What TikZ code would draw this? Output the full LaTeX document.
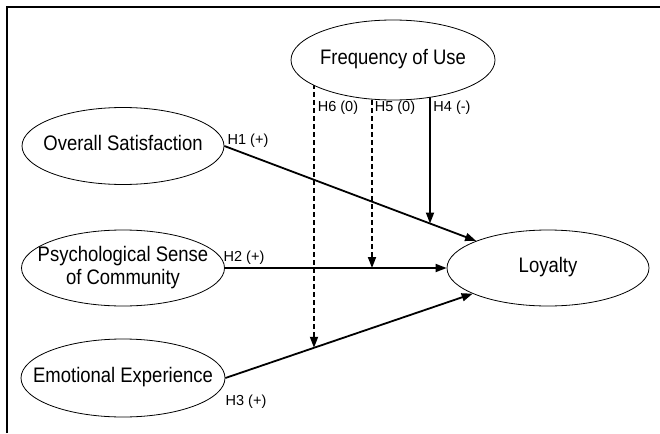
\documentclass[tikz,border=0pt]{standalone}
\usepackage{fontspec}
\setmainfont{Liberation Sans}
\newfontfamily\narrowfont{Liberation Sans}[FakeStretch=0.88]
\usetikzlibrary{shapes.geometric,arrows.meta,intersections,backgrounds}
\newcommand{\zbox}[1]{\makebox[0pt]{\begin{tabular}{@{}c@{}}#1\end{tabular}}}
\begin{document}
\begin{tikzpicture}[x=1pt,y=-1pt,
  construct/.style={ellipse,draw,line width=0.8pt,fill=white,inner sep=0pt,
    font=\narrowfont\fontsize{21}{23}\selectfont},
  lbl/.style={font=\fontsize{14.5}{16}\selectfont,inner sep=0pt},
  path/.style={line width=1.8pt,-{Triangle[length=11pt,width=8pt]}},
  modpath/.style={path,dash pattern=on 5pt off 3pt},
]
\useasboundingbox (0,0) rectangle (660,433);
\draw[line width=1.2pt] (7,433) -- (7,7) -- (660,7);

\node[construct,minimum width=204pt,minimum height=80pt] (freq) at (393,60) {\zbox{Frequency of Use}};
\node[construct,minimum width=202pt,minimum height=77pt] (os) at (123,146) {\zbox{Overall Satisfaction}};
\node[construct,minimum width=203pt,minimum height=76pt] (psc) at (123,268) {\zbox{Psychological Sense\\of Community}};
\node[construct,minimum width=204pt,minimum height=78pt] (ee) at (123,378) {\zbox{Emotional Experience}};
\node[construct,minimum width=202pt,minimum height=76pt] (loy) at (548,268) {\zbox{Loyalty}};

\coordinate (x4) at (430,0);
\coordinate (x5) at (372,0);
\coordinate (x6) at (314,0);

\path[name path=h1] (os.east) -- (loy.center);
\path[name path=h3] (ee.east) -- (loy.center);
\path[name path=v4] (430,0) -- (430,433);
\path[name path=v6] (314,0) -- (314,433);

\begin{scope}[on background layer]
\draw[path] (os.east) -- (loy);
\draw[path] (psc.east) -- (loy.west);
\draw[path] (ee.east) -- (loy);
\draw[path,name intersections={of=v4 and h1,by=m4}] (freq.center -| x4) -- (m4);
\draw[modpath] (freq.center -| x5) -- (psc.east -| x5);
\draw[modpath,name intersections={of=v6 and h3,by=m6}] (freq.center -| x6) -- (m6);
\end{scope}

\node[lbl] (l1) at (248,141) {H1 (+)};
\node[lbl] (l2) at (244,258) {H2 (+)};
\node[lbl] (l3) at (246,402) {H3 (+)};
\node[lbl] (l4) at (452,108) {H4 (-)};
\node[lbl] (l5) at (395,108) {H5 (0)};
\node[lbl] (l6) at (338,108) {H6 (0)};
\end{tikzpicture}
\end{document}
